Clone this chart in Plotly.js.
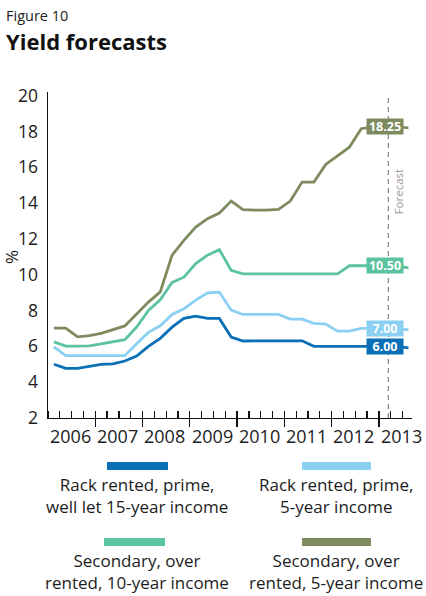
<!DOCTYPE html>
<html>
<head>
<meta charset="utf-8">
<script src="https://cdn.plot.ly/plotly-3.0.1.min.js"></script>
<style>
  html, body { margin: 0; padding: 0; background: #fff; }
  #chart { width: 426px; height: 596px; }
</style>
</head>
<body>
<div id="chart"></div>
<script>
// Quarterly observations, plotted at mid-quarter (decimal years)
const quarters = [
  2006.125, 2006.375, 2006.625, 2006.875,
  2007.125, 2007.375, 2007.625, 2007.875,
  2008.125, 2008.375, 2008.625, 2008.875,
  2009.125, 2009.375, 2009.625, 2009.875,
  2010.125, 2010.375, 2010.625, 2010.875,
  2011.125, 2011.375, 2011.625, 2011.875,
  2012.125, 2012.375, 2012.625, 2012.875,
  2013.125, 2013.375, 2013.625
];

// Yields, %
const rackPrime15 = [5.0, 4.77, 4.77, 4.86, 4.99, 5.02, 5.18, 5.46, 6.0, 6.45, 7.07, 7.56, 7.69, 7.56, 7.56, 6.52,
  6.3, 6.31, 6.31, 6.31, 6.31, 6.31, 6.0, 6.0, 6.0, 6.0, 6.0, 6.0, 6.0, 6.0, 5.92];
const rackPrime5 = [5.97, 5.48, 5.48, 5.48, 5.48, 5.48, 5.48, 6.15, 6.78, 7.15, 7.78, 8.1, 8.58, 8.99, 9.03, 8.02,
  7.78, 7.78, 7.78, 7.78, 7.52, 7.52, 7.28, 7.24, 6.85, 6.85, 7.0, 7.0, 7.0, 7.0, 6.92];
const secondary10 = [6.25, 6.01, 6.01, 6.03, 6.14, 6.25, 6.37, 7.08, 8.0, 8.6, 9.57, 9.86, 10.62, 11.09, 11.4, 10.24,
  10.05, 10.05, 10.05, 10.05, 10.05, 10.05, 10.05, 10.05, 10.05, 10.5, 10.5, 10.5, 10.5, 10.5, 10.38];
const secondary5 = [7.02, 7.02, 6.53, 6.6, 6.72, 6.93, 7.14, 7.81, 8.47, 9.04, 11.09, 11.92, 12.66, 13.13, 13.44, 14.11,
  13.63, 13.6, 13.6, 13.65, 14.11, 15.17, 15.17, 16.16, 16.63, 17.12, 18.15, 18.25, 18.25, 18.25, 18.2];

const seriesNames = [
  'Rack rented, prime,<br>well let 15-year income',
  'Rack rented, prime,<br>5-year income',
  'Secondary, over<br>rented, 10-year income',
  'Secondary, over<br>rented, 5-year income'
];
const seriesColors = ['#0a6fb6', '#8bd0f3', '#5bc3a1', '#7e8b5f'];
const seriesValues = [rackPrime15, rackPrime5, secondary10, secondary5];

const yearLabels = ['2006', '2007', '2008', '2009', '2010', '2011', '2012', '2013'];
const yearBoundaries = [2007, 2008, 2009, 2010, 2011, 2012, 2013];
const yTicks = [2, 4, 6, 8, 10, 12, 14, 16, 18, 20];
const forecastStart = 2013.2;
const labelIndex = 28; // quarter whose value is flagged at the forecast line

// plot box in pixels
const L = 48, R = 412, T = 92, B = 418;
const W = 426, H = 596;
const px = v => (v - L) / (R - L);
const py = v => (B - v) / (B - T);

const FONT = 'Open Sans, Noto Sans, sans-serif';
const INK = '#1c1c1c';

const traces = seriesValues.map((vals, i) => ({
  type: 'scatter', mode: 'lines',
  x: quarters, y: vals,
  name: seriesNames[i].replace('<br>', ' '),
  line: { color: seriesColors[i], width: 2.8 },
  hoverinfo: 'skip', showlegend: false
}));

const annotations = [];

// headings
annotations.push({ xref: 'paper', yref: 'paper', x: px(4), y: py(15.5), xanchor: 'left', yanchor: 'middle',
  text: 'Figure 10', showarrow: false, font: { family: FONT, size: 14.5, color: '#222' } });
annotations.push({ xref: 'paper', yref: 'paper', x: px(4), y: py(41.5), xanchor: 'left', yanchor: 'middle',
  text: '<b>Yield forecasts</b>', showarrow: false, font: { family: FONT, size: 22, color: '#111' } });

// y-axis unit
annotations.push({ xref: 'paper', yref: 'paper', x: px(11), y: py(257), xanchor: 'center', yanchor: 'middle',
  text: '%', textangle: -90, showarrow: false, font: { family: FONT, size: 17, color: INK } });

// year labels centred inside each year
yearLabels.forEach(lbl => {
  annotations.push({ xref: 'x', yref: 'paper', x: Number(lbl) + 0.47, y: py(436), xanchor: 'center', yanchor: 'middle',
    text: lbl, showarrow: false, font: { family: FONT, size: 18, color: INK } });
});

// forecast marker text
annotations.push({ xref: 'x', yref: 'paper', x: forecastStart, xshift: 10, y: py(191), xanchor: 'center', yanchor: 'middle',
  text: 'Forecast', textangle: -90, showarrow: false, font: { family: FONT, size: 11.5, color: '#9a9a9a' } });

// value flags on the forecast line
seriesValues.forEach((vals, i) => {
  annotations.push({ xref: 'x', yref: 'y', x: quarters[labelIndex], y: vals[labelIndex],
    text: '<b>' + vals[labelIndex].toFixed(2) + '</b>', showarrow: false,
    bgcolor: seriesColors[i], borderpad: 1, width: 34, height: 13,
    font: { family: FONT, size: 12.5, color: '#fff' } });
});

// legend: swatch + two-line caption per series
const legendCols = [137, 336];
const legendRows = [{ sw: 466, tx: 495 }, { sw: 542, tx: 571 }];
const swatchX = [[107, 168], [302, 371], [104, 165], [302, 371]];
const shapes = [];
seriesNames.forEach((name, i) => {
  const row = legendRows[Math.floor(i / 2)];
  const col = legendCols[i % 2];
  shapes.push({ type: 'rect', xref: 'paper', yref: 'paper',
    x0: px(swatchX[i][0]), x1: px(swatchX[i][1]), y0: py(row.sw + 4), y1: py(row.sw - 4),
    fillcolor: seriesColors[i], line: { width: 0 } });
  annotations.push({ xref: 'paper', yref: 'paper', x: px(col), y: py(row.tx), xanchor: 'center', yanchor: 'middle',
    text: name, align: 'center', showarrow: false, font: { family: FONT, size: 17, color: INK } });
});

// dashed forecast divider
shapes.push({ type: 'line', xref: 'x', yref: 'paper', x0: forecastStart, x1: forecastStart, y0: 0, y1: py(95),
  line: { color: '#8a8a8a', width: 1.3, dash: '5px,4px' } });

const layout = {
  width: W, height: H,
  margin: { l: L, r: W - R, t: T, b: H - B, pad: 0 },
  paper_bgcolor: '#fff', plot_bgcolor: '#fff',
  showlegend: false,
  font: { family: FONT, color: INK },
  xaxis: {
    range: [2006, 2013.7], showgrid: false, zeroline: false,
    showline: true, linecolor: '#111', linewidth: 1.4,
    tickmode: 'array', tickvals: yearBoundaries, showticklabels: false,
    ticks: 'outside', ticklen: 8, tickwidth: 1.3, tickcolor: '#111',
    minor: { tickmode: 'linear', tick0: 2006, dtick: 0.25, ticks: 'inside', ticklen: 7, tickwidth: 1.3, tickcolor: '#111', showgrid: false }
  },
  yaxis: {
    range: [2, 20.2], showgrid: false, zeroline: false,
    showline: true, linecolor: '#111', linewidth: 1.4,
    tickmode: 'array', tickvals: yTicks, ticks: '',
    ticklabelstandoff: 5,
    tickfont: { family: FONT, size: 17.5, color: INK }
  },
  annotations: annotations,
  shapes: shapes
};

Plotly.newPlot('chart', traces, layout, { staticPlot: true, displayModeBar: false });
</script>
</body>
</html>
